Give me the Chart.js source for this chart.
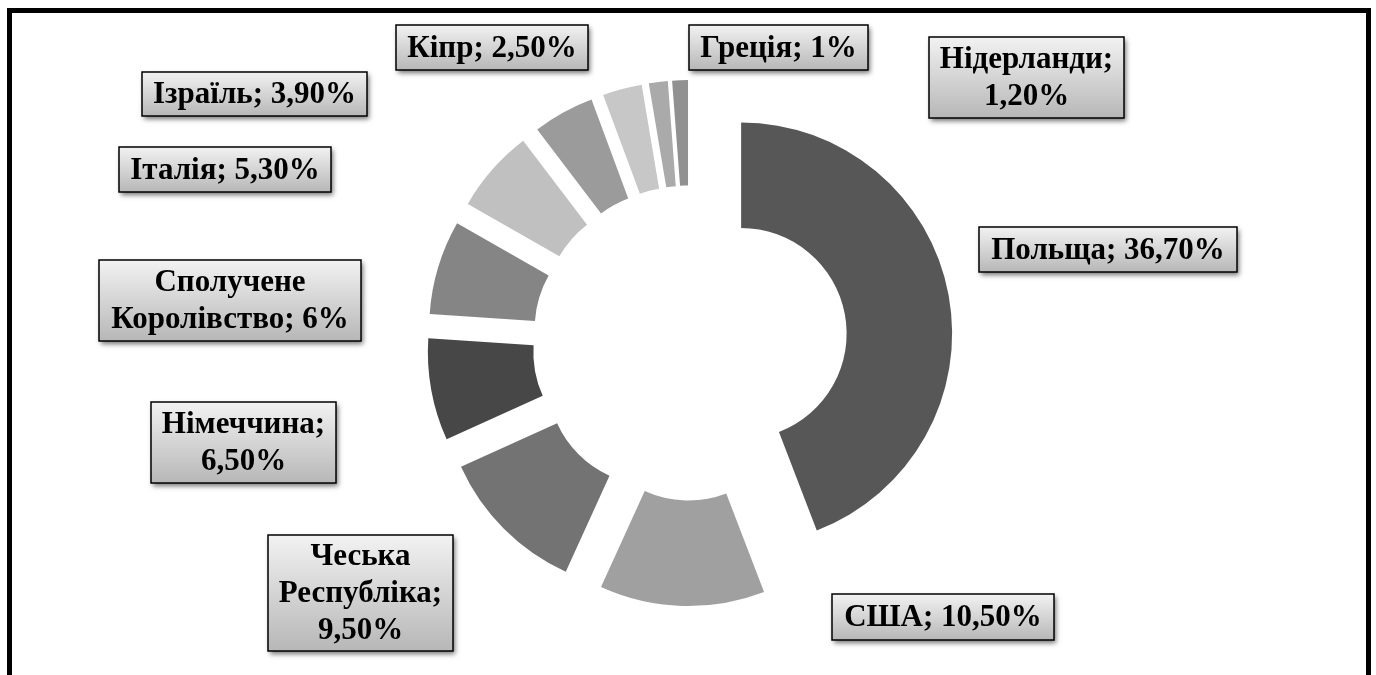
<!DOCTYPE html>
<html>
<head>
<meta charset="utf-8">
<script src="https://cdn.jsdelivr.net/npm/chart.js@4.4.1/dist/chart.umd.min.js"></script>
<style>
  html, body { margin: 0; padding: 0; background: #fff; overflow: hidden; }
  #wrap { position: relative; width: 1376px; height: 675px; }
  #frame { position: absolute; left: 7px; top: 8px; width: 1354px; height: 720px; border: 5px solid #000; border-bottom: none; }
  #chart { position: absolute; left: 0; top: 0; }
</style>
</head>
<body>
<div id="wrap">
  <div id="frame"></div>
  <canvas id="chart" width="1376" height="675"></canvas>
</div>
<script>
// ── Data ──
const categories = ['Польща', 'США', 'Чеська Республіка', 'Німеччина', 'Сполучене Королівство',
  'Італія', 'Ізраїль', 'Кіпр', 'Нідерланди', 'Греція'];
const shares = [36.7, 10.5, 9.5, 6.5, 6, 5.3, 3.9, 2.5, 1.2, 1];
const sliceColors = ['#575757', '#a0a0a0', '#737373', '#474747', '#858585',
  '#c0c0c0', '#9b9b9b', '#c7c7c7', '#aaaaaa', '#919191'];

// ── Layout (label boxes: left, top, width, height) ──
const labelBoxes = [
  { x: 979, y: 227, w: 258, h: 45 },   // Польща
  { x: 832, y: 594, w: 222, h: 46 },   // США
  { x: 268, y: 535, w: 185, h: 116 },  // Чеська Республіка
  { x: 151, y: 402, w: 185, h: 81 },   // Німеччина
  { x: 99,  y: 260, w: 262, h: 81 },   // Сполучене Королівство
  { x: 119, y: 147, w: 212, h: 45 },   // Італія
  { x: 142, y: 72,  w: 225, h: 44 },   // Ізраїль
  { x: 396, y: 25,  w: 192, h: 45 },   // Кіпр
  { x: 929, y: 37,  w: 195, h: 81 },   // Нідерланди
  { x: 689, y: 25,  w: 179, h: 45 },   // Греція
];
const SHIFT = 52;          // explosion distance of every slice, px
const LABEL_FONT = 'bold 31px "Liberation Serif", "Times New Roman", serif';
const LINE_H = 37;

const fmt = v => Number.isInteger(v) ? v + '%' : v.toFixed(2).replace('.', ',') + '%';

// Chart.js arcs shift by offset/4 but also grow their radii and trim their angle; undo that
const explodePlugin = {
  id: 'explode',
  afterDatasetUpdate(chart, args) {
    args.meta.data.forEach(arc => {
      const o = (arc.options.offset || 0) / 4;
      const grow = o * (1 - Math.sin(Math.min(Math.PI, arc.circumference)));
      const R = arc.outerRadius;
      arc.outerRadius = R - grow;
      arc.innerRadius = arc.innerRadius - grow;
      const widen = (grow / Math.PI) / R / 2;
      arc.startAngle -= widen;
      arc.endAngle += widen;
    });
  }
};

function wrapText(ctx, text, maxW) {
  const words = text.split(' ');
  const lines = [];
  let cur = '';
  words.forEach(w => {
    const test = cur ? cur + ' ' + w : w;
    if (cur && ctx.measureText(test).width > maxW) {
      lines.push(cur);
      cur = w;
    } else {
      cur = test;
    }
  });
  if (cur) lines.push(cur);
  return lines;
}

// ── Label boxes ──
const labelBoxPlugin = {
  id: 'labelBoxes',
  afterDraw(chart) {
    const ctx = chart.ctx;
    ctx.save();
    ctx.font = LABEL_FONT;
    categories.forEach((cat, i) => {
      const b = labelBoxes[i];
      const grad = ctx.createLinearGradient(0, b.y, 0, b.y + b.h);
      grad.addColorStop(0, '#f2f2f2');
      grad.addColorStop(1, '#b7b7b7');

      ctx.shadowColor = 'rgba(0,0,0,0.55)';
      ctx.shadowBlur = 5;
      ctx.shadowOffsetX = 2;
      ctx.shadowOffsetY = 3;
      ctx.fillStyle = grad;
      ctx.fillRect(b.x, b.y, b.w, b.h);
      ctx.shadowColor = 'transparent';

      ctx.lineWidth = 1.5;
      ctx.strokeStyle = '#000';
      ctx.strokeRect(b.x, b.y, b.w, b.h);

      const lines = wrapText(ctx, `${cat}; ${fmt(shares[i])}`, b.w - 6);
      ctx.fillStyle = '#000';
      ctx.textAlign = 'center';
      ctx.textBaseline = 'middle';
      const top = b.y + b.h / 2 - (lines.length - 1) * LINE_H / 2;
      lines.forEach((ln, k) => ctx.fillText(ln, b.x + b.w / 2, top + k * LINE_H + 1));
    });
    ctx.restore();
  }
};

// ── Chart ──
new Chart(document.getElementById('chart').getContext('2d'), {
  type: 'doughnut',
  data: {
    labels: categories,
    datasets: [{
      data: shares,
      backgroundColor: sliceColors,
      borderWidth: 0,
      offset: SHIFT * 4,
      hoverOffset: 0,
    }]
  },
  options: {
    responsive: false,
    animation: false,
    events: [],
    radius: 211,
    cutout: '50%',
    layout: { padding: { left: 4, top: 11, right: 0, bottom: 0 } },
    plugins: {
      legend: { display: false },
      tooltip: { enabled: false }
    }
  },
  plugins: [explodePlugin, labelBoxPlugin]
});
</script>
</body>
</html>
